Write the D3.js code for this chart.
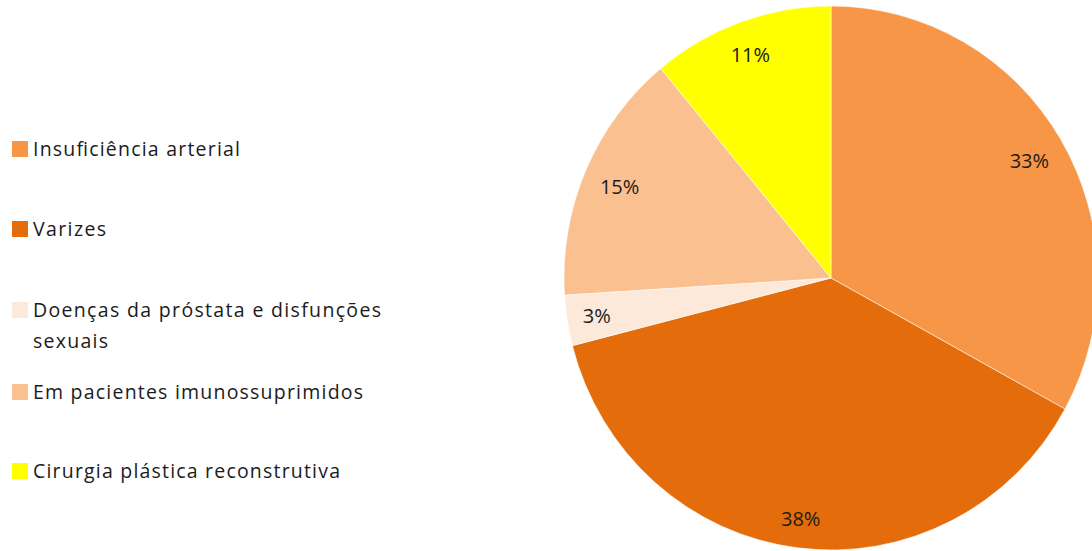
<!DOCTYPE html>
<html>
<head>
<meta charset="utf-8">
<script src="https://cdn.jsdelivr.net/npm/d3@7"></script>
<style>
  html, body { margin: 0; padding: 0; background: #fff; }
  svg { display: block; }
  text { font-family: "Open Sans", "Noto Sans", sans-serif; fill: #1b1b1b; }
</style>
</head>
<body>
<svg id="chart" width="1092" height="551"></svg>
<script>
// Categories, clockwise from 12 o'clock
const categories = [
  "Insuficiência arterial",
  "Varizes",
  "Doenças da próstata e disfunções sexuais",
  "Em pacientes imunossuprimidos",
  "Cirurgia plástica reconstrutiva"
];
// Share of each category (%)
const shares = [33, 38, 3, 15, 11];
// Slice fill colours
const sliceColors = ["#F79646", "#E46C0A", "#FDE9D9", "#FAC090", "#FFFF00"];
// Legend text broken into display lines
const legendLines = [
  ["Insuficiência arterial"],
  ["Varizes"],
  ["Doenças da próstata e disfunções", "sexuais"],
  ["Em pacientes imunossuprimidos"],
  ["Cirurgia plástica reconstrutiva"]
];

// Layout
const W = 1092, H = 551;
const cx = 831, cy = 278;
const rx = 267, ry = 272;
const legendX = 12, legendSwatch = 16, legendTextX = 33;
const legendRowY = [149, 229, 310, 392, 471];   // swatch centres
const legendLineGap = 31;
const legendWidths = [[207], [73], [348, 75], [330], [307]];
const labelPad = 14;

const svg = d3.select("#chart");

const color = d3.scaleOrdinal().domain(categories).range(sliceColors);

const pie = d3.pie().sort(null).value(d => d.value);
const arcs = pie(categories.map((c, i) => ({ name: c, value: shares[i] })));

const arc = d3.arc().innerRadius(0).outerRadius(rx);

// Pie drawn as a circle, stretched slightly vertically
const pieG = svg.append("g")
  .attr("transform", `translate(${cx},${cy}) scale(1,${ry / rx})`);

pieG.selectAll("path.slice")
  .data(arcs)
  .join("path")
  .attr("class", "slice")
  .attr("d", arc)
  .attr("fill", d => color(d.data.name))
  .attr("stroke", "#ffffff")
  .attr("stroke-width", 0.8)
  .attr("stroke-opacity", 0.7);

// Percentage labels placed inside the slice end
const labelG = svg.append("g").attr("transform", `translate(${cx},${cy})`);
labelG.selectAll("text.pct")
  .data(arcs)
  .join("text")
  .attr("class", "pct")
  .attr("font-size", 20)
  .attr("text-anchor", "middle")
  .attr("dominant-baseline", "central")
  .text(d => d.data.value + "%")
  .each(function (d) {
    const bb = this.getBBox();
    const a = (d.startAngle + d.endAngle) / 2;
    const ux = Math.sin(a), uy = -Math.cos(a);
    const ext = Math.abs(ux) * bb.width / 2 + Math.abs(uy) * bb.height / 2;
    const rEdge = Math.sqrt(1 / ((ux * ux) / (rx * rx) + (uy * uy) / (ry * ry)));
    const dist = rEdge - labelPad - ext;
    d3.select(this).attr("x", ux * dist).attr("y", uy * dist);
  });

// Legend
const legend = svg.append("g");
const rows = legend.selectAll("g.row")
  .data(categories)
  .join("g")
  .attr("class", "row")
  .attr("transform", (d, i) => `translate(0,${legendRowY[i]})`);

rows.append("rect")
  .attr("x", legendX)
  .attr("y", -legendSwatch / 2)
  .attr("width", legendSwatch)
  .attr("height", legendSwatch)
  .attr("fill", d => color(d));

rows.each(function (d, i) {
  const g = d3.select(this);
  legendLines[i].forEach((line, j) => {
    g.append("text")
      .attr("x", legendTextX)
      .attr("y", j * legendLineGap)
      .attr("dy", "0.36em")
      .attr("font-size", 19.5)
      .attr("textLength", legendWidths[i][j])
      .attr("lengthAdjust", "spacing")
      .text(line);
  });
});
</script>
</body>
</html>
